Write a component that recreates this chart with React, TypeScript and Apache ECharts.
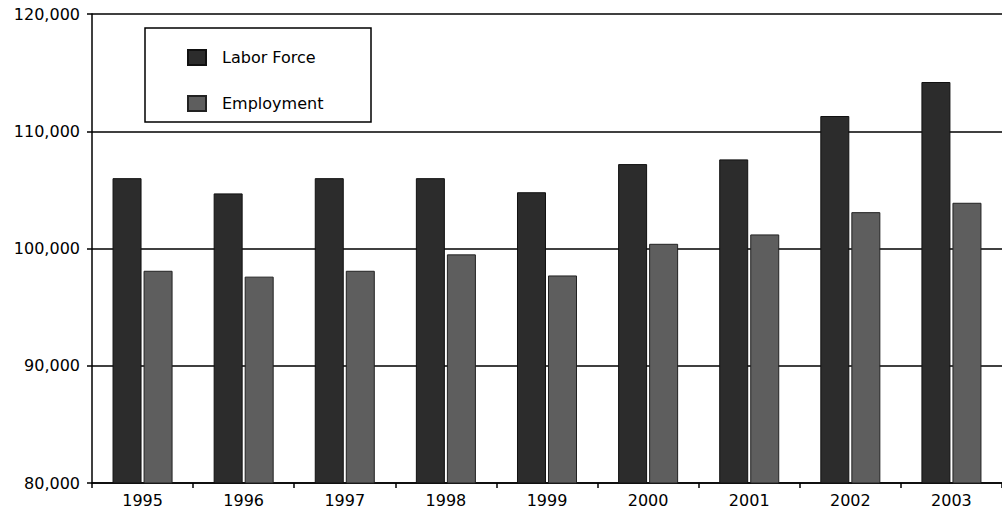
import React, { useEffect, useRef } from "react";
import * as echarts from "echarts";

const categories = ["1995", "1996", "1997", "1998", "1999", "2000", "2001", "2002", "2003"];
const laborForce = [106000, 104700, 106000, 106000, 104800, 107200, 107600, 111300, 114200];
const employment = [98100, 97600, 98100, 99500, 97700, 100400, 101200, 103100, 103900];
const seriesNames = ["Labor Force", "Employment"];

const FONT = "DejaVu Sans";

export default function App() {
  const ref = useRef<HTMLDivElement>(null);
  useEffect(() => {
    document.body.style.margin = "0";
    if (!ref.current) return;
    const chart = echarts.init(ref.current, undefined, { renderer: "svg" });
    chart.setOption({
      animation: false,
      backgroundColor: "#ffffff",
      grid: { left: 92, top: 14, width: 921, height: 469, containLabel: false },
      graphic: [
        {
          type: "rect",
          z: 1,
          shape: { x: 145, y: 28, width: 226, height: 94 },
          style: { fill: "#ffffff", stroke: "#000000", lineWidth: 1.5 },
        },
      ],
      legend: {
        orient: "vertical",
        left: 182,
        top: 44,
        itemWidth: 18,
        itemHeight: 15,
        itemGap: 29,
        icon: "rect",
        z: 5,
        data: seriesNames,
        textStyle: {
          fontFamily: FONT,
          fontSize: 16,
          lineHeight: 16,
          color: "#000000",
          padding: [0, 0, 0, 11],
        },
      },
      xAxis: {
        type: "category",
        data: categories,
        axisLine: { show: true, lineStyle: { color: "#000000", width: 1.5 } },
        axisTick: { show: true, length: 5, lineStyle: { color: "#000000", width: 1.5 } },
        axisLabel: { fontFamily: FONT, fontSize: 16, color: "#000000", margin: 9 },
        splitLine: { show: false },
      },
      yAxis: {
        type: "value",
        min: 80000,
        max: 120000,
        interval: 10000,
        axisLine: { show: true, lineStyle: { color: "#000000", width: 1.5 } },
        axisTick: { show: true, length: 5, lineStyle: { color: "#000000", width: 1.5 } },
        axisLabel: {
          fontFamily: FONT,
          fontSize: 16,
          color: "#000000",
          margin: 12,
          formatter: (v: number) => v.toLocaleString("en-US"),
        },
        splitLine: { show: true, lineStyle: { color: "#000000", width: 1.5 } },
      },
      series: [
        {
          name: seriesNames[0],
          type: "bar",
          data: laborForce,
          barWidth: 29,
          barGap: "7%",
          itemStyle: { color: "#2c2c2c", borderColor: "#111111", borderWidth: 1 },
        },
        {
          name: seriesNames[1],
          type: "bar",
          data: employment,
          barWidth: 29,
          itemStyle: { color: "#5e5e5e", borderColor: "#222222", borderWidth: 1 },
        },
      ],
    });
    return () => chart.dispose();
  }, []);
  return (
    <div
      ref={ref}
      style={{ position: "absolute", left: 0, top: 0, width: 1002, height: 513 }}
    />
  );
}
